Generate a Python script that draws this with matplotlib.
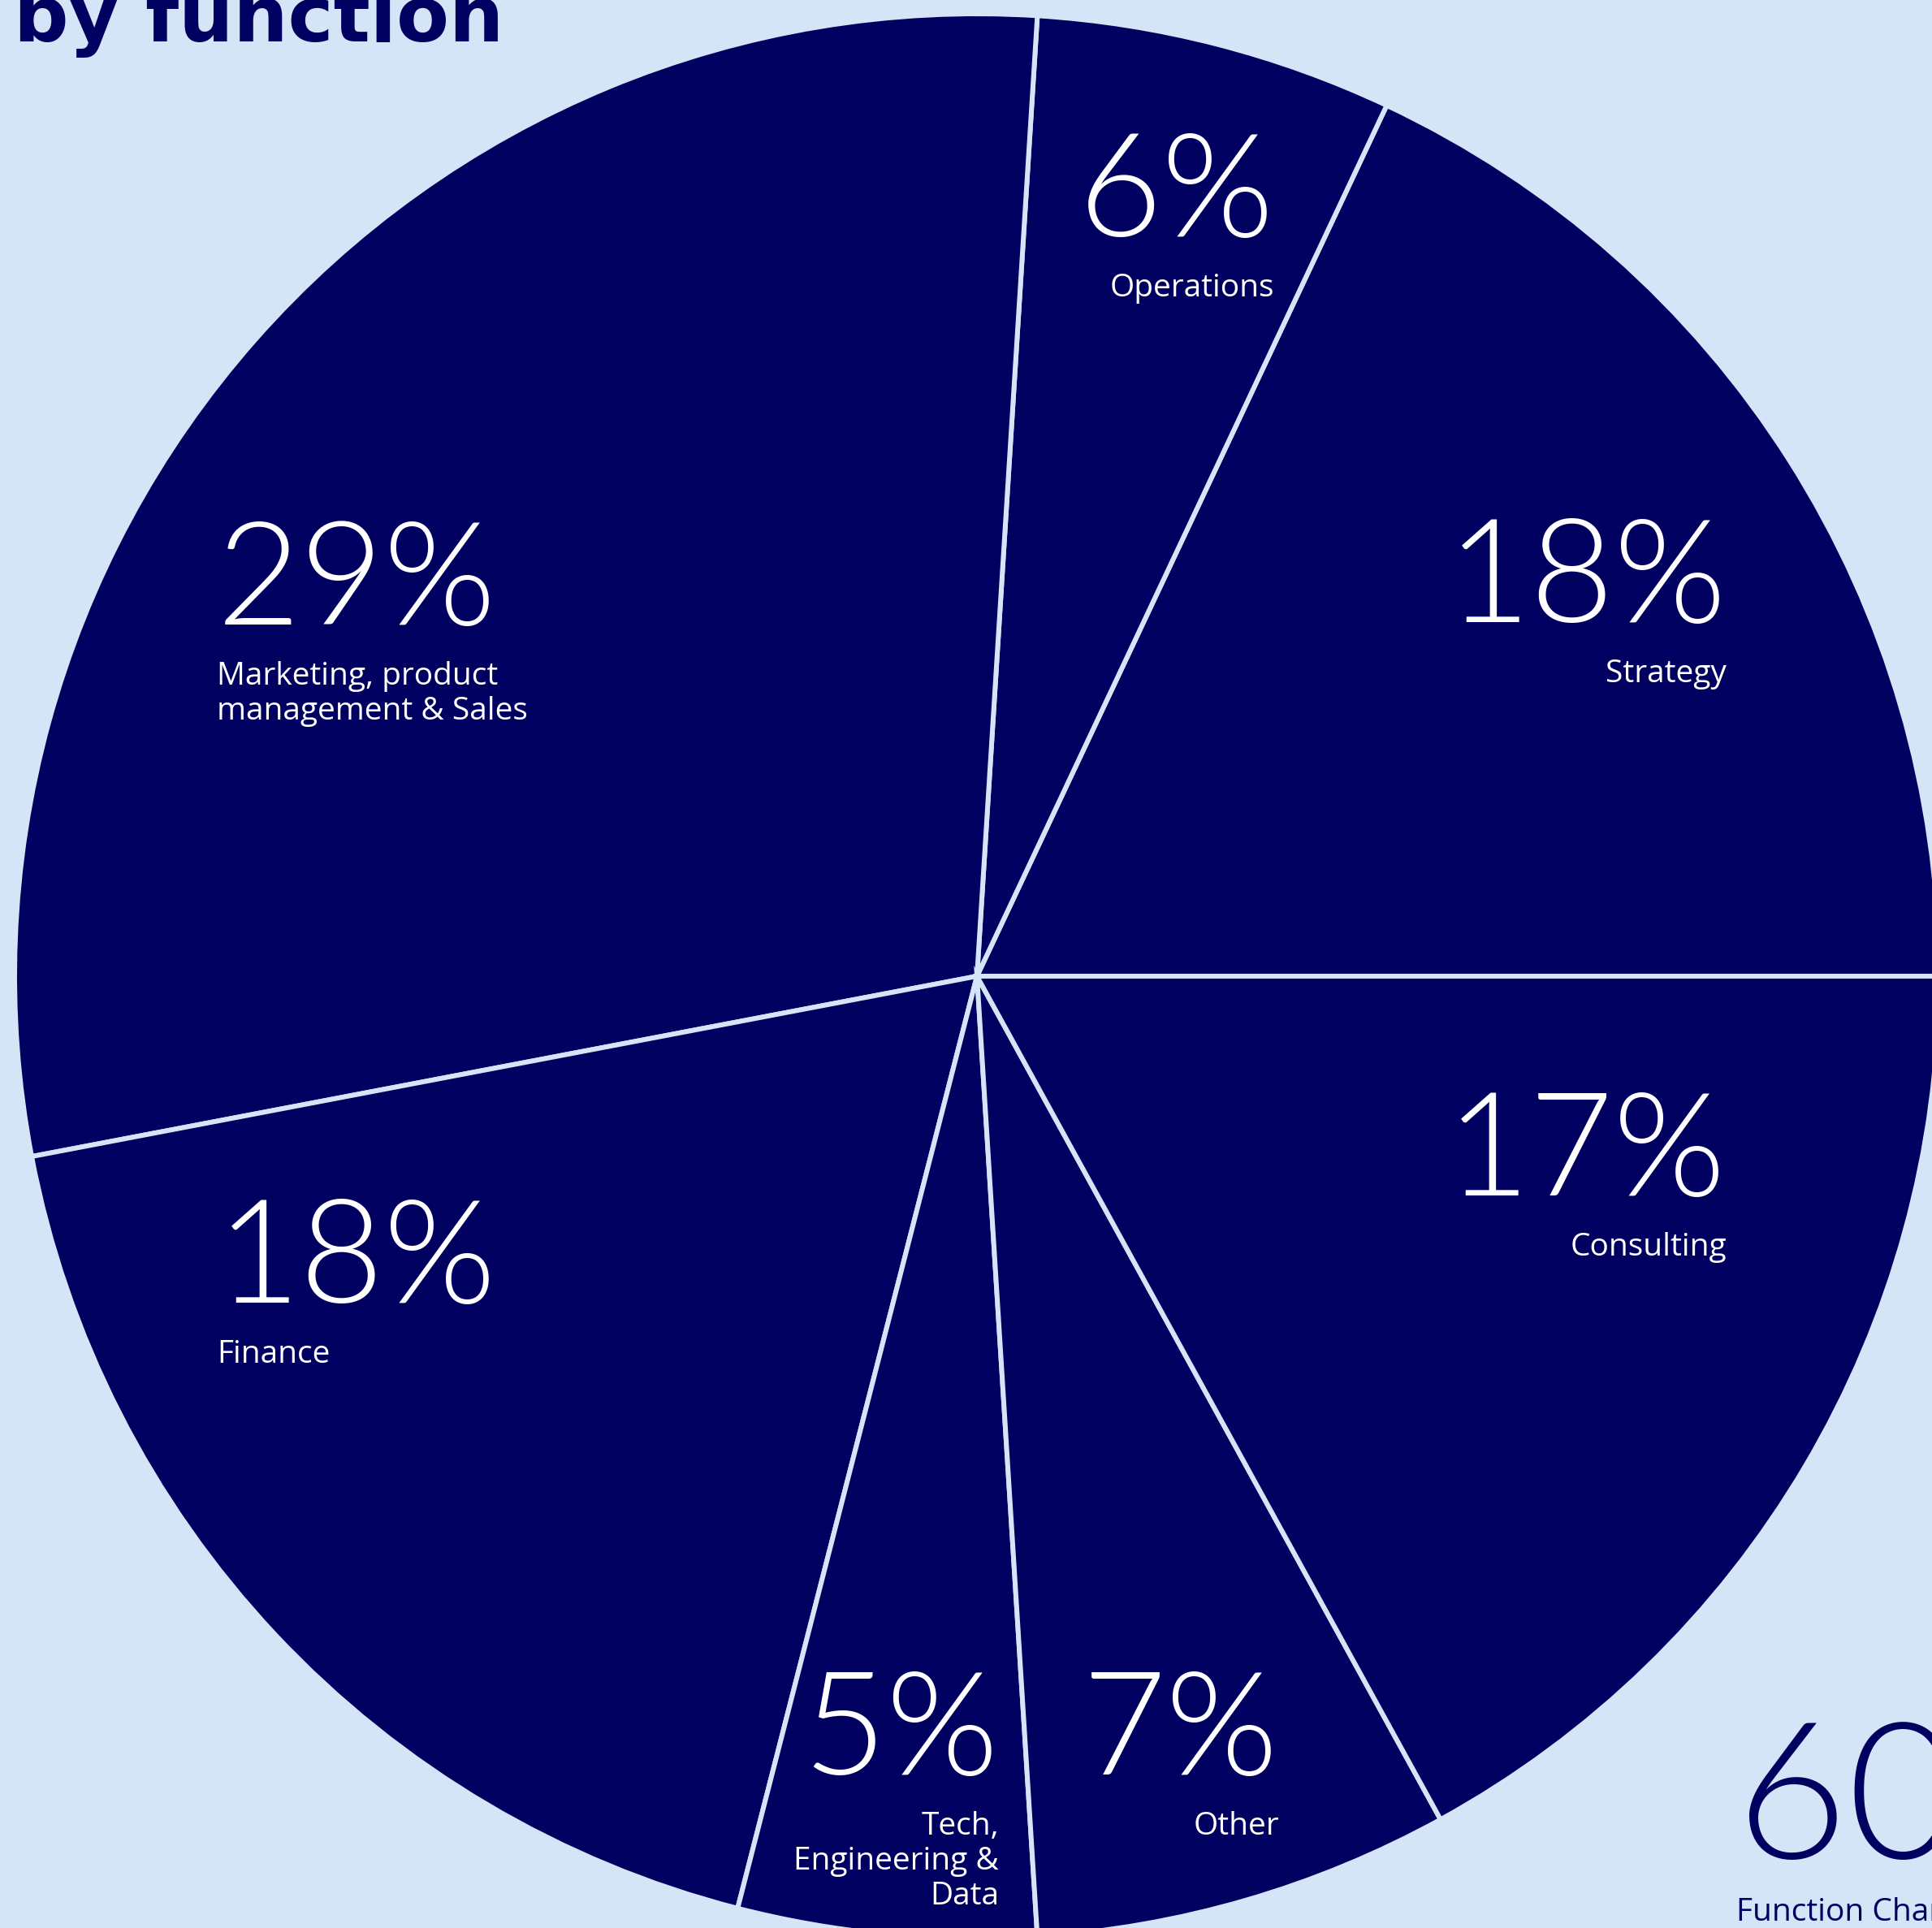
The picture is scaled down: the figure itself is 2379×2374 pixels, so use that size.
import matplotlib
matplotlib.use('Agg')
import matplotlib.pyplot as plt

# pie data, counter-clockwise from 3 o'clock
functions = ['Strategy', 'Operations', 'Marketing, product\nmanagement & Sales',
             'Finance', 'Tech,\nEngineering &\nData', 'Other', 'Consulting']
shares = [18, 6, 29, 18, 5, 7, 17]
pct_labels = ['18%', '6%', '29%', '18%', '5%', '7%', '17%']

bg = '#D3E5F7'
navy = '#000060'
W, H = 2379, 2374

plt.rcParams['font.family'] = ['Lato', 'DejaVu Sans']

fig = plt.figure(figsize=(W / 100, H / 100), dpi=100, facecolor=bg)
ax = fig.add_axes([0, 0, 1, 1])
ax.set_facecolor(bg)

# pixel helper: y measured from top of the picture
def py(y):
    return H - y

ax.pie(shares, startangle=0, counterclock=True, center=(1203, py(1202)), radius=1185,
       colors=[navy] * len(shares),
       wedgeprops=dict(edgecolor=bg, linewidth=4.3))
ax.set_xlim(0, W)
ax.set_ylim(0, H)
ax.set_aspect('equal')
ax.axis('off')

# label anchor positions (x, pct baseline, ha)
spots = [(2126, 766, 'right'), (1569, 291, 'right'), (267, 769, 'left'),
         (267, 1604, 'left'), (1230, 2185, 'right'), (1575, 2185, 'right'),
         (2126, 1472, 'right')]

for (x, yb, ha), pct, name in zip(spots, pct_labels, functions):
    ax.text(x, py(yb), pct, ha=ha, va='baseline', color='white',
            fontsize=128, fontweight=300)
    ax.text(x, py(yb + 45), name, ha=ha, va='top', color='white',
            fontsize=28, family=['Open Sans', 'DejaVu Sans'], linespacing=1.17)

ax.text(17, py(51), 'by function', ha='left', va='baseline', color=navy,
        fontsize=68, fontweight='bold', family='DejaVu Sans')
ax.text(2138, py(2288), '60%', ha='left', va='baseline', color=navy,
        fontsize=170, fontweight=300)
ax.text(2138, py(2365), 'Function Changers', ha='left', va='baseline', color=navy,
        fontsize=28, family=['Open Sans', 'DejaVu Sans'])

fig.savefig('out.png', dpi=100, facecolor=bg)
